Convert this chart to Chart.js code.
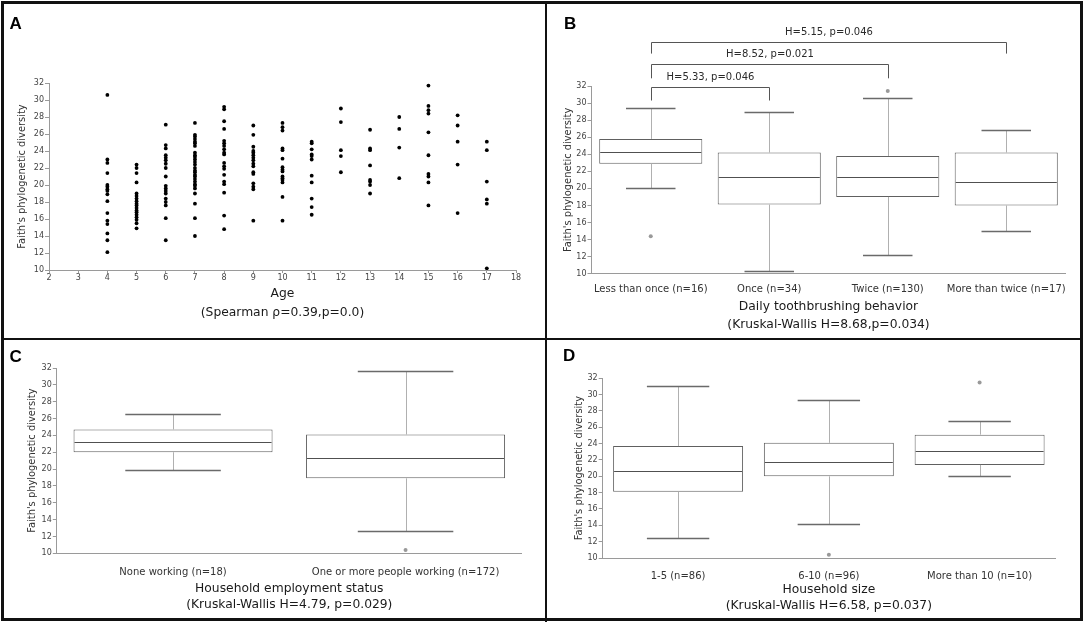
<!DOCTYPE html>
<html>
<head>
<meta charset="utf-8">
<script src="https://cdn.jsdelivr.net/npm/chart.js@4.4.1/dist/chart.umd.min.js"></script>
<style>
  html, body { margin: 0; padding: 0; background: #fff; }
  #page { position: relative; width: 1084px; height: 623px; overflow: hidden; }
  canvas.panel { position: absolute; }
  .frame { position: absolute; background: #111; }
  .outer { position: absolute; left: 1px; top: 1px; width: 1082px; height: 620px; border: 3px solid #111; box-sizing: border-box; }
  .letter { position: absolute; font-family: 'Liberation Sans', Arial, sans-serif; font-weight: bold; font-size: 17px; line-height: 1; color: #000; }
</style>
</head>
<body>
<div id="page">
  <canvas id="chartA" class="panel" width="540" height="335" style="left:4px;top:3px"></canvas>
  <canvas id="chartB" class="panel" width="533" height="335" style="left:548px;top:3px"></canvas>
  <canvas id="chartC" class="panel" width="540" height="278" style="left:4px;top:341px"></canvas>
  <canvas id="chartD" class="panel" width="533" height="278" style="left:548px;top:341px"></canvas>

  <div class="outer"></div>
  <div class="frame" style="left:545px;top:1px;width:2px;height:621px"></div>
  <div class="frame" style="left:1px;top:338px;width:1082px;height:2px"></div>

  <div class="letter" style="left:9.5px;top:14.5px">A</div>
  <div class="letter" style="left:564px;top:15px">B</div>
  <div class="letter" style="left:9.5px;top:347.5px">C</div>
  <div class="letter" style="left:563px;top:347px">D</div>
</div>

<script>
// Faith's phylogenetic diversity figure: age scatter (A) + three box plots (B, C, D)

// ---- Panel A: diversity by age ----
const ages = [4, 5, 6, 7, 8, 9, 10, 11, 12, 13, 14, 15, 16, 17];
const diversityByAge = [
  [30.6, 23.0, 22.6, 21.4, 20.0, 19.8, 19.5, 19.3, 18.9, 18.1, 16.7, 15.8, 15.4, 14.3, 13.5, 12.1],
  [22.4, 22.0, 21.4, 20.3, 19.0, 18.7, 18.4, 18.1, 17.8, 17.6, 17.3, 17.0, 16.8, 16.5, 16.2, 15.9, 15.5, 14.9],
  [27.1, 24.7, 24.3, 23.5, 23.2, 22.9, 22.5, 22.0, 21.0, 19.9, 19.6, 19.3, 19.0, 18.4, 18.0, 17.6, 16.1, 13.5],
  [27.3, 25.9, 25.7, 25.4, 25.1, 24.9, 24.6, 23.8, 23.5, 23.3, 23.0, 22.7, 22.4, 22.0, 21.7, 21.5, 21.2, 21.0, 20.7, 20.4, 20.1, 19.9, 19.6, 19.0, 17.8, 16.1, 14.0],
  [29.2, 28.9, 27.5, 26.6, 25.2, 24.9, 24.6, 24.2, 23.8, 23.6, 22.6, 22.2, 21.9, 21.2, 20.4, 20.1, 19.1, 16.4, 14.8],
  [27.0, 25.9, 24.5, 24.0, 23.8, 23.5, 23.2, 22.9, 22.5, 22.2, 21.5, 21.3, 20.2, 19.8, 19.5, 15.8],
  [27.3, 26.8, 26.4, 24.3, 24.1, 23.1, 22.1, 21.8, 21.6, 21.0, 20.8, 20.6, 20.3, 18.6, 15.8],
  [25.1, 24.9, 24.2, 23.6, 23.4, 23.0, 21.1, 20.3, 18.4, 17.4, 16.5],
  [29.0, 27.4, 24.1, 23.4, 21.5],
  [26.5, 24.3, 24.1, 22.3, 20.6, 20.4, 20.0, 19.0],
  [28.0, 26.6, 24.4, 20.8],
  [31.7, 29.3, 28.8, 28.4, 26.2, 23.5, 21.3, 21.0, 20.3, 17.6],
  [28.2, 27.0, 25.1, 22.4, 16.7],
  [25.1, 24.1, 20.4, 18.3, 17.8, 10.2]
];

// ---- Panel B: daily toothbrushing ----
const brushCategories = ['Less than once (n=16)', 'Once (n=34)', 'Twice (n=130)', 'More than twice (n=17)'];
const brushMin = [20.0, 10.35, 12.2, 15.0];
const brushQ1 = [22.9, 18.1, 19.0, 18.0];
const brushMedian = [24.3, 21.3, 21.3, 20.8];
const brushQ3 = [25.8, 24.2, 23.8, 24.2];
const brushMax = [29.4, 28.9, 30.6, 26.9];
const brushOutliers = [14.4, null, 31.4, null];
const brushPairs = [[0, 1], [0, 2], [0, 3]];
const brushPairLabels = ['H=5.33, p=0.046', 'H=8.52, p=0.021', 'H=5.15, p=0.046'];

// ---- Panel C: household employment ----
const employCategories = ['None working (n=18)', 'One or more people working (n=172)'];
const employMin = [19.9, 12.6];
const employQ1 = [22.0, 18.9];
const employMedian = [23.2, 21.3];
const employQ3 = [24.7, 24.1];
const employMax = [26.5, 31.7];
const employOutliers = [null, 10.4];

// ---- Panel D: household size ----
const sizeCategories = ['1-5 (n=86)', '6-10 (n=96)', 'More than 10 (n=10)'];
const sizeMin = [12.4, 14.2, 20.0];
const sizeQ1 = [18.1, 20.0, 21.4];
const sizeMedian = [20.6, 21.7, 23.1];
const sizeQ3 = [23.7, 24.1, 25.1];
const sizeMax = [31.0, 29.4, 26.8];
const sizeOutliers = [null, 10.4, 31.5];

const FONT = 'DejaVu Sans';
const axisColor = '#9a9a9a';
const tickColor = '#444';
const titleColor = '#1a1a1a';

Chart.defaults.font.family = FONT;
Chart.defaults.animation = false;

// y axis shared by every panel
function diversityAxis(width) {
  return {
    min: 10,
    max: 32,
    ticks: { stepSize: 2, font: { size: 8 }, color: tickColor, padding: 1 },
    grid: { display: true, drawOnChartArea: false, drawTicks: true, tickLength: 4, color: axisColor },
    border: { color: axisColor },
    title: {
      display: true,
      text: "Faith's phylogenetic diversity",
      font: { size: 9.9, lineHeight: 1 },
      color: '#333',
      padding: 0
    },
    afterFit(scale) { scale.width = width; }
  };
}

// category x axis with two-line caption underneath
function categoryAxis(titleLines, lineHeight, height, labelPad) {
  return {
    type: 'category',
    grid: { display: false },
    border: { color: axisColor },
    ticks: { font: { size: 10 }, color: '#333', padding: labelPad, autoSkip: false, maxRotation: 0 },
    title: {
      display: true,
      text: titleLines,
      font: { size: 12.3, lineHeight: lineHeight },
      color: titleColor,
      padding: 0
    },
    afterFit(scale) { scale.height = height; }
  };
}

// whiskers, caps and median line drawn on top of the floating bars
function boxWhiskerPlugin(mins, medians, maxs) {
  return {
    id: 'boxWhiskers',
    afterDatasetsDraw(chart) {
      const ctx = chart.ctx;
      const yScale = chart.scales.y;
      const crisp = v => Math.round(v) + 0.5;
      ctx.save();
      chart.getDatasetMeta(0).data.forEach((bar, i) => {
        const x = crisp(bar.x);
        const half = bar.width / 2;
        const capHalf = half * 0.48;
        const yMin = crisp(yScale.getPixelForValue(mins[i]));
        const yMax = crisp(yScale.getPixelForValue(maxs[i]));
        const yMed = crisp(yScale.getPixelForValue(medians[i]));
        const boxTop = Math.min(bar.y, bar.base);
        const boxBottom = Math.max(bar.y, bar.base);

        ctx.strokeStyle = '#b0b0b0';
        ctx.lineWidth = 1;
        ctx.beginPath();
        ctx.moveTo(x, boxTop);
        ctx.lineTo(x, yMax);
        ctx.moveTo(x, boxBottom);
        ctx.lineTo(x, yMin);
        ctx.stroke();

        ctx.strokeStyle = '#6a6a6a';
        ctx.lineWidth = 1.3;
        ctx.beginPath();
        ctx.moveTo(bar.x - capHalf, yMax);
        ctx.lineTo(bar.x + capHalf, yMax);
        ctx.moveTo(bar.x - capHalf, yMin);
        ctx.lineTo(bar.x + capHalf, yMin);
        ctx.stroke();

        ctx.strokeStyle = '#505050';
        ctx.lineWidth = 1;
        ctx.beginPath();
        ctx.moveTo(bar.x - half + 1, yMed);
        ctx.lineTo(bar.x + half - 1, yMed);
        ctx.stroke();
      });
      ctx.restore();
    }
  };
}

// significance brackets above panel B
function bracketPlugin(pairs, labels, levels, legEnds) {
  return {
    id: 'brackets',
    afterDraw(chart) {
      const ctx = chart.ctx;
      const xs = chart.scales.x;
      const ys = chart.scales.y;
      ctx.save();
      ctx.strokeStyle = '#555';
      ctx.lineWidth = 1;
      ctx.fillStyle = '#2a2a2a';
      ctx.font = '10px "' + FONT + '"';
      ctx.textAlign = 'center';
      ctx.textBaseline = 'middle';
      pairs.forEach((pair, i) => {
        const x1 = Math.round(xs.getPixelForValue(pair[0])) + 0.5;
        const x2 = Math.round(xs.getPixelForValue(pair[1])) + 0.5;
        const yTop = Math.round(ys.getPixelForValue(levels[i])) + 0.5;
        const yLeg = ys.getPixelForValue(legEnds[i]);
        ctx.beginPath();
        ctx.moveTo(x1, yLeg);
        ctx.lineTo(x1, yTop);
        ctx.lineTo(x2, yTop);
        ctx.lineTo(x2, yLeg);
        ctx.stroke();
        ctx.fillText(labels[i], (x1 + x2) / 2, yTop - 10);
      });
      ctx.restore();
    }
  };
}

function makeBoxChart(canvasId, labels, stats, axes, padding, barPct, extraPlugins) {
  const ctx = document.getElementById(canvasId).getContext('2d');
  return new Chart(ctx, {
    type: 'bar',
    data: {
      labels: labels,
      datasets: [
        {
          type: 'bar',
          data: labels.map((_, i) => [stats.q1[i], stats.q3[i]]),
          backgroundColor: '#fff',
          borderColor: '#606060',
          borderWidth: 1,
          borderSkipped: false,
          categoryPercentage: 1,
          barPercentage: barPct
        },
        {
          type: 'line',
          data: stats.outliers,
          showLine: false,
          pointRadius: 2,
          pointBackgroundColor: '#999',
          pointBorderWidth: 0
        }
      ]
    },
    options: {
      responsive: false,
      layout: { padding: padding },
      plugins: { legend: { display: false }, tooltip: { enabled: false } },
      scales: axes
    },
    plugins: [boxWhiskerPlugin(stats.min, stats.median, stats.max)].concat(extraPlugins || [])
  });
}

// Panel A scatter
const agePoints = ages.flatMap((a, i) => diversityByAge[i].map(v => ({ x: a, y: v })));
new Chart(document.getElementById('chartA').getContext('2d'), {
  type: 'scatter',
  data: {
    datasets: [{
      data: agePoints,
      pointRadius: 1.9,
      pointBackgroundColor: '#000',
      pointBorderWidth: 0
    }]
  },
  options: {
    responsive: false,
    layout: { padding: { left: 13, right: 28, top: 80, bottom: 16 } },
    plugins: { legend: { display: false }, tooltip: { enabled: false } },
    scales: {
      x: {
        type: 'linear',
        min: 2,
        max: 18,
        ticks: { stepSize: 1, font: { size: 8 }, color: tickColor, padding: 0 },
        grid: { display: true, drawOnChartArea: false, drawTicks: true, tickLength: 3, color: axisColor },
        border: { color: axisColor },
        title: {
          display: true,
          text: ['Age', '(Spearman ρ=0.39,p=0.0)'],
          font: { size: 12.3, lineHeight: '18.7px' },
          color: titleColor,
          padding: 0
        },
        afterFit(scale) { scale.height = 52; }
      },
      y: diversityAxis(32)
    }
  }
});

// Panel B
makeBoxChart('chartB', brushCategories,
  { min: brushMin, q1: brushQ1, median: brushMedian, q3: brushQ3, max: brushMax, outliers: brushOutliers },
  {
    x: categoryAxis(['Daily toothbrushing behavior', '(Kruskal-Wallis H=8.68,p=0.034)'], '18px', 60.6, 2),
    y: diversityAxis(28.5)
  },
  { left: 15, right: 15.5, top: 83, bottom: 3.7 },
  0.87,
  [bracketPlugin(brushPairs, brushPairLabels, [31.92, 34.54, 37.19], [30.3, 32.9, 35.8])]
);

// Panel C
makeBoxChart('chartC', employCategories,
  { min: employMin, q1: employQ1, median: employMedian, q3: employQ3, max: employMax, outliers: employOutliers },
  {
    x: categoryAxis(['Household employment status', '(Kruskal-Wallis H=4.79, p=0.029)'], '16.7px', 60.1, 5),
    y: diversityAxis(29.8)
  },
  { left: 23, right: 22.2, top: 27, bottom: 5.6 },
  0.856
);

// Panel D
makeBoxChart('chartD', sizeCategories,
  { min: sizeMin, q1: sizeQ1, median: sizeMedian, q3: sizeQ3, max: sizeMax, outliers: sizeOutliers },
  {
    x: categoryAxis(['Household size', '(Kruskal-Wallis H=6.58, p=0.037)'], '15.5px', 55.5, 4),
    y: diversityAxis(28.7)
  },
  { left: 26, right: 26, top: 37.3, bottom: 5.5 },
  0.862
);
</script>
</body>
</html>
